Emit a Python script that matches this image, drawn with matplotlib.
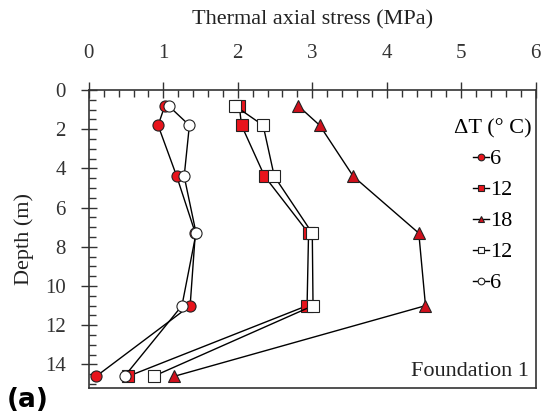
import matplotlib.pyplot as plt
from matplotlib.ticker import MultipleLocator

plt.rcParams['font.family'] = ['Liberation Serif', 'DejaVu Serif']
plt.rcParams['mathtext.fontset'] = 'stix'

# Gauge depths (m) and thermal axial stress (MPa) for each temperature step
depth = [0.8, 1.8, 4.4, 7.3, 11.0, 14.6]
heat_6 = [1.02, 0.93, 1.18, 1.43, 1.36, 0.10]
heat_12 = [2.02, 2.05, 2.36, 2.95, 2.93, 0.53]
heat_18 = [2.81, 3.10, 3.55, 4.43, 4.52, 1.15]
cool_12 = [1.96, 2.34, 2.49, 3.00, 3.01, 0.87]
cool_6 = [1.07, 1.35, 1.28, 1.44, 1.25, 0.48]

red = '#e8141c'
series = [
    (heat_6, 'o', red, '6'),
    (heat_12, 's', red, '12'),
    (heat_18, '^', '#d0101c', '18'),
    (cool_12, 's', 'white', '12'),
    (cool_6, 'o', 'white', '6'),
]

fig = plt.figure(figsize=(5.45, 4.19), dpi=100)
ax = fig.add_axes([0.163, 0.074, 0.82, 0.711])

for vals, mk, fc, lab in series:
    ax.plot(vals, depth, color='black', lw=1.0, marker=mk, markersize=8,
            markerfacecolor=fc, markeredgecolor='#222222', markeredgewidth=0.8,
            label=lab)

ax.set_xlim(0, 6)
ax.set_ylim(15.2, 0)
ax.xaxis.tick_top()
ax.xaxis.set_label_position('top')
ax.xaxis.set_major_locator(MultipleLocator(1))
ax.xaxis.set_minor_locator(MultipleLocator(0.2))
ax.yaxis.set_major_locator(MultipleLocator(2))
ax.yaxis.set_minor_locator(MultipleLocator(0.5))
ax.tick_params(which='major', direction='inout', length=11, width=1.0,
               labelsize=15, colors='#333333')
ax.tick_params(which='minor', direction='in', length=5, width=1.0,
               colors='#333333')
ax.tick_params(axis='x', which='both', top=True, bottom=False)
ax.tick_params(axis='x', which='major', pad=14)
ax.tick_params(axis='y', which='both', left=True, right=False)
ax.tick_params(axis='y', which='major', pad=11)
ax.set_xlabel('Thermal axial stress (MPa)', fontsize=16, labelpad=14,
              color='#222222')
ax.set_ylabel('Depth (m)', fontsize=16, labelpad=8, color='#222222')
for sp in ax.spines.values():
    sp.set_linewidth(1.2)
    sp.set_color('#333333')

ax.legend(title='ΔT (° C)', loc='upper right', bbox_to_anchor=(1.015, 0.94),
          frameon=False, fontsize=16, title_fontsize=16,
          handlelength=0.75, handletextpad=0.05, labelspacing=0.47,
          markerscale=0.6, borderaxespad=0.1)

ax.text(0.985, 0.025, 'Foundation 1', transform=ax.transAxes, ha='right',
        va='bottom', fontsize=16, color='#222222')
fig.text(0.012, 0.045, '(a)', fontsize=19, fontweight='bold',
         family='DejaVu Sans', ha='left', va='center')

fig.savefig('out.png', dpi=100)
